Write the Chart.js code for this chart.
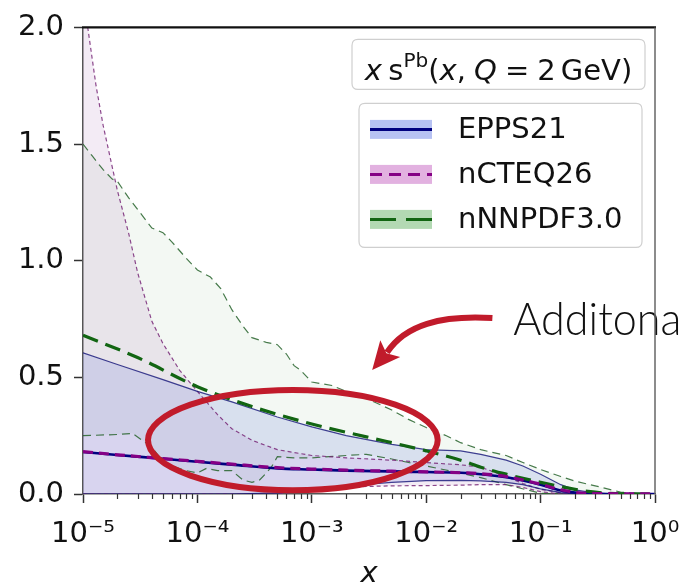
<!DOCTYPE html>
<html>
<head>
<meta charset="utf-8">
<script src="https://cdn.jsdelivr.net/npm/chart.js@4/dist/chart.umd.min.js"></script>
<style>
  html, body { margin: 0; padding: 0; background: #fff; overflow: hidden; }
  canvas { display: block; }
</style>
</head>
<body>
<canvas id="chart" width="679" height="587"></canvas>
<script>
// Strange-quark distribution x s^Pb(x, Q = 2 GeV): central values and uncertainty bands

const seriesNames = ['EPPS21', 'nCTEQ26', 'nNNPDF3.0'];
const xTickValues = [1e-5, 1e-4, 1e-3, 1e-2, 1e-1, 1];
const xTickLabels = ['10⁻⁵', '10⁻⁴', '10⁻³', '10⁻²', '10⁻¹', '10⁰'];
const yTickValues = [0, 0.5, 1.0, 1.5, 2.0];

// common x grid for the smooth curves
const gridX = [1e-5, 2e-5, 5e-5, 1e-4, 2e-4, 5e-4, 1e-3, 2e-3, 5e-3, 1e-2,
               2e-2, 3e-2, 5e-2, 7e-2, 0.1, 0.15, 0.2, 0.3, 0.5, 1];

// EPPS21
const eppsCentral = [0.180, 0.167, 0.151, 0.138, 0.126, 0.110, 0.105, 0.100, 0.097, 0.094,
                     0.091, 0.085, 0.072, 0.058, 0.040, 0.015, 0.006, 0.001, 0.000, 0.000];
const eppsUpper   = [0.605, 0.555, 0.490, 0.440, 0.395, 0.330, 0.288, 0.250, 0.213, 0.190,
                     0.185, 0.170, 0.145, 0.120, 0.085, 0.040, 0.018, 0.004, 0.000, 0.000];
const eppsLower   = [0.000, 0.000, 0.000, 0.000, 0.000, 0.005, 0.020, 0.035, 0.050, 0.057,
                     0.058, 0.056, 0.050, 0.040, 0.022, 0.006, 0.001, 0.000, 0.000, 0.000];

// nCTEQ26
const ncteqCentral = [0.182, 0.168, 0.152, 0.140, 0.128, 0.113, 0.107, 0.102, 0.098, 0.095,
                      0.091, 0.087, 0.075, 0.060, 0.042, 0.018, 0.007, 0.002, 0.001, 0.000];
const ncteqLower   = [0.000, 0.000, 0.000, 0.000, 0.000, 0.000, 0.015, 0.030, 0.035, 0.036,
                      0.038, 0.040, 0.040, 0.028, 0.010, 0.000, 0.000, 0.000, 0.000, 0.000];
const ncteqUpperX  = [1e-5, 1.1e-5, 1.3e-5, 1.5e-5, 2e-5, 2.5e-5, 3e-5, 4e-5, 5e-5, 7e-5,
                      1e-4, 1.5e-4, 2e-4, 3e-4, 5e-4, 1e-3, 2e-3, 5e-3, 1e-2, 2e-2,
                      3e-2, 5e-2, 7e-2, 0.1, 0.15, 0.2, 1];
const ncteqUpper   = [2.12, 2.00, 1.75, 1.58, 1.30, 1.12, 0.95, 0.74, 0.645, 0.53,
                      0.44, 0.34, 0.28, 0.23, 0.19, 0.165, 0.155, 0.145, 0.135, 0.125,
                      0.115, 0.075, 0.045, 0.020, 0.005, 0.000, 0.000];

// nNNPDF3.0
const nnpdfCentralX = [1e-5, 3e-5, 1e-4, 3e-4, 1e-3, 3e-3, 1e-2, 2e-2, 3e-2, 5e-2, 0.1, 0.2, 0.3, 0.5, 1];
const nnpdfCentral  = [0.68, 0.585, 0.46, 0.375, 0.30, 0.245, 0.185, 0.145, 0.115, 0.085, 0.05, 0.02, 0.008, 0.001, 0];
const nnpdfUpperX = [1e-5, 1.2e-5, 1.5e-5, 1.8e-5, 2e-5, 2.5e-5, 3e-5, 4e-5, 5e-5, 6e-5,
                     8e-5, 1e-4, 1.3e-4, 1.6e-4, 2e-4, 2.5e-4, 3e-4, 4e-4, 5e-4, 6e-4,
                     7e-4, 8e-4, 1e-3, 1.5e-3, 2e-3, 3e-3, 5e-3, 7e-3, 1e-2, 1.5e-2,
                     2e-2, 3e-2, 5e-2, 7e-2, 0.1, 0.15, 0.2, 0.3, 0.5, 0.7, 1];
const nnpdfUpper  = [1.50, 1.45, 1.39, 1.35, 1.34, 1.27, 1.22, 1.14, 1.12, 1.08,
                     1.01, 0.96, 0.93, 0.88, 0.79, 0.72, 0.67, 0.65, 0.64, 0.60,
                     0.55, 0.53, 0.48, 0.465, 0.44, 0.41, 0.36, 0.32, 0.285, 0.25,
                     0.22, 0.19, 0.165, 0.135, 0.105, 0.075, 0.055, 0.035, 0.008, 0.002, 0];
const nnpdfLowerX = [1e-5, 2e-5, 2.7e-5, 3.3e-5, 4e-5, 5e-5, 6e-5, 8e-5, 1e-4, 1.2e-4,
                     1.5e-4, 2e-4, 2.5e-4, 3e-4, 3.5e-4, 4e-4, 4.5e-4, 5e-4, 7e-4, 1e-3,
                     2e-3, 3e-3, 5e-3, 7e-3, 1e-2, 2e-2, 3e-2, 5e-2, 0.1, 0.2, 1];
const nnpdfLower  = [0.25, 0.255, 0.26, 0.23, 0.20, 0.14, 0.12, 0.10, 0.09, 0.11,
                     0.10, 0.10, 0.06, 0.05, 0.06, 0.09, 0.12, 0.16, 0.155, 0.155,
                     0.165, 0.17, 0.15, 0.135, 0.12, 0.09, 0.07, 0.04, 0.003, 0, 0];

// callout: ellipse box, curved arrow path and label, all in data coordinates
const calloutEllipse = { xMin: 3.7e-5, xMax: 1.26e-2, yMin: 0.016, yMax: 0.446 };
const calloutArrow = [
  { x: 3.79e-2, y: 0.754 },  // start
  { x: 1.33e-2, y: 0.767 },  // control 1
  { x: 6.56e-3, y: 0.725 },  // control 2
  { x: 4.85e-3, y: 0.6235 }, // end of shaft
  { x: 3.37e-3, y: 0.531 }   // tip
];
const calloutText = { text: 'Additonal', x: 5.78e-2, y: 0.6826 };
const legendTitleParts = [
  { t: 'x', it: true }, { gap: 0.22 }, { t: 's' }, { t: 'Pb', sup: true }, { t: '(' },
  { t: 'x', it: true }, { t: ',' }, { gap: 0.28 }, { t: 'Q', it: true }, { gap: 0.28 },
  { t: '=' }, { gap: 0.28 }, { t: '2' }, { gap: 0.17 }, { t: 'GeV' }, { t: ')' }
];

const FONT = "'DejaVu Sans', sans-serif";
const styles = [
  { line: '#00007f', edge: 'rgba(20,20,120,0.8)', fill: 'rgba(85,100,215,0.17)',
    patch: '#b7c2f3', dash: [], edgeDash: [], legendDash: [], width: 2.6 },
  { line: '#850085', edge: 'rgba(120,40,120,0.85)', fill: 'rgba(150,75,160,0.11)',
    patch: '#e2b1e0', dash: [10, 6], edgeDash: [4, 3], legendDash: [12, 7], width: 3.2 },
  { line: '#126512', edge: 'rgba(40,100,45,0.85)', fill: 'rgba(80,160,80,0.07)',
    patch: '#b3d9b3', dash: [16, 8], edgeDash: [8, 5], legendDash: [26, 10], width: 3.2 }
];

const pts = (xs, ys) => xs.map((x, i) => ({ x, y: ys[i] }));

const datasets = [];
function addBand(k, upX, up, loX, lo, cX, c, centralOrder) {
  const s = styles[k];
  const upperIndex = datasets.length;
  datasets.push({
    label: seriesNames[k] + ' upper', data: pts(upX, up), fill: upperIndex + 1,
    backgroundColor: s.fill, borderColor: s.edge, borderWidth: 1.2, borderDash: s.edgeDash,
    tension: 0, order: 10
  });
  datasets.push({
    label: seriesNames[k] + ' lower', data: pts(loX, lo), fill: false,
    borderColor: s.edge, borderWidth: 1.2, borderDash: s.edgeDash, tension: 0, order: 10
  });
  datasets.push({
    label: seriesNames[k], data: pts(cX, c), fill: false,
    borderColor: s.line, borderWidth: s.width, borderDash: s.dash,
    cubicInterpolationMode: 'monotone', order: centralOrder
  });
}
addBand(0, gridX, eppsUpper, gridX, eppsLower, gridX, eppsCentral, 3);
addBand(1, ncteqUpperX, ncteqUpper, gridX, ncteqLower, gridX, ncteqCentral, 1);
addBand(2, nnpdfUpperX, nnpdfUpper, nnpdfLowerX, nnpdfLower, nnpdfCentralX, nnpdfCentral, 2);

function roundRectPath(ctx, x, y, w, h, r) {
  ctx.beginPath();
  ctx.moveTo(x + r, y);
  ctx.lineTo(x + w - r, y); ctx.quadraticCurveTo(x + w, y, x + w, y + r);
  ctx.lineTo(x + w, y + h - r); ctx.quadraticCurveTo(x + w, y + h, x + w - r, y + h);
  ctx.lineTo(x + r, y + h); ctx.quadraticCurveTo(x, y + h, x, y + h - r);
  ctx.lineTo(x, y + r); ctx.quadraticCurveTo(x, y, x + r, y);
  ctx.closePath();
}

const decorations = {
  id: 'decorations',
  afterDraw(chart) {
    const { ctx, chartArea: a, scales: { x, y } } = chart;
    ctx.save();

    // minor ticks on the log axis
    ctx.strokeStyle = '#333'; ctx.lineWidth = 1.2;
    for (let e = -5; e < 0; e++) {
      for (let k = 2; k < 10; k++) {
        const px = Math.round(x.getPixelForValue(k * Math.pow(10, e))) + 0.5;
        ctx.beginPath(); ctx.moveTo(px, a.bottom); ctx.lineTo(px, a.bottom + 5); ctx.stroke();
      }
    }

    // legend title box
    const fs = 29;
    const tb = { x: a.right - 303, y: a.top + 12, w: 293, h: 50 };
    roundRectPath(ctx, tb.x, tb.y, tb.w, tb.h, 6);
    ctx.fillStyle = 'rgba(255,255,255,0.85)'; ctx.fill();
    ctx.strokeStyle = '#cfcfcf'; ctx.lineWidth = 1.2; ctx.stroke();
    const fontFor = p => (p.it ? 'italic ' : '') + (p.sup ? Math.round(fs * 0.7) : fs) + 'px ' + FONT;
    let total = 0;
    legendTitleParts.forEach(p => {
      if (p.gap) { total += p.gap * fs; return; }
      ctx.font = fontFor(p); total += ctx.measureText(p.t).width;
    });
    let cx = tb.x + (tb.w - total) / 2;
    const base = tb.y + 41;
    ctx.fillStyle = '#111'; ctx.textBaseline = 'alphabetic'; ctx.textAlign = 'left';
    legendTitleParts.forEach(p => {
      if (p.gap) { cx += p.gap * fs; return; }
      ctx.font = fontFor(p);
      ctx.fillText(p.t, cx, p.sup ? base - fs * 0.45 : base);
      cx += ctx.measureText(p.t).width;
    });

    // legend entries
    const lb = { x: a.right - 296, y: a.top + 76, w: 283, h: 144 };
    roundRectPath(ctx, lb.x, lb.y, lb.w, lb.h, 6);
    ctx.fillStyle = 'rgba(255,255,255,0.85)'; ctx.fill();
    ctx.strokeStyle = '#cfcfcf'; ctx.lineWidth = 1.2; ctx.stroke();
    seriesNames.forEach((name, i) => {
      const s = styles[i];
      const rowY = lb.y + 26 + i * 45;
      const hx = lb.x + 11, hw = 62, hh = 19;
      ctx.fillStyle = s.patch;
      ctx.fillRect(hx, rowY - hh / 2, hw, hh);
      ctx.strokeStyle = s.line; ctx.lineWidth = 3; ctx.setLineDash(s.legendDash);
      ctx.beginPath(); ctx.moveTo(hx, rowY); ctx.lineTo(hx + hw, rowY); ctx.stroke();
      ctx.setLineDash([]);
      ctx.fillStyle = '#111'; ctx.font = fs + 'px ' + FONT; ctx.textBaseline = 'middle';
      ctx.fillText(name, lb.x + 99, rowY + 1);
    });

    // callout ellipse
    const red = '#c11b2b';
    const ex0 = x.getPixelForValue(calloutEllipse.xMin), ex1 = x.getPixelForValue(calloutEllipse.xMax);
    const ey0 = y.getPixelForValue(calloutEllipse.yMax), ey1 = y.getPixelForValue(calloutEllipse.yMin);
    ctx.strokeStyle = red; ctx.lineWidth = 6;
    ctx.beginPath();
    ctx.ellipse((ex0 + ex1) / 2, (ey0 + ey1) / 2, (ex1 - ex0) / 2, (ey1 - ey0) / 2, 0, 0, Math.PI * 2);
    ctx.stroke();

    // curved arrow
    const P = calloutArrow.map(p => ({ x: x.getPixelForValue(p.x), y: y.getPixelForValue(p.y) }));
    const [p0, c1, c2, b, tip] = P;
    const dx = tip.x - b.x, dy = tip.y - b.y, len = Math.hypot(dx, dy);
    const ux = dx / len, uy = dy / len, nx = -uy, ny = ux;
    ctx.lineWidth = 6; ctx.lineCap = 'butt';
    ctx.beginPath(); ctx.moveTo(p0.x, p0.y);
    ctx.bezierCurveTo(c1.x, c1.y, c2.x, c2.y, b.x + ux * 5, b.y + uy * 5);
    ctx.stroke();
    ctx.fillStyle = red;
    ctx.beginPath();
    ctx.moveTo(tip.x, tip.y);
    ctx.lineTo(b.x + nx * 13, b.y + ny * 13);
    ctx.lineTo(b.x + ux * 6, b.y + uy * 6);
    ctx.lineTo(b.x - nx * 13, b.y - ny * 13);
    ctx.closePath(); ctx.fill();

    // callout label (runs off the right edge)
    ctx.font = "300 46px Lato, 'Liberation Sans', sans-serif";
    ctx.textBaseline = 'alphabetic'; ctx.textAlign = 'left';
    const sx = 168 / ctx.measureText('Additona').width;
    ctx.fillStyle = '#111';
    ctx.save();
    ctx.translate(x.getPixelForValue(calloutText.x), y.getPixelForValue(calloutText.y));
    ctx.scale(sx, 1);
    ctx.fillText(calloutText.text, 0, 0);
    ctx.restore();

    // top and right spines
    ctx.lineCap = 'butt';
    ctx.strokeStyle = '#111'; ctx.lineWidth = 2.2;
    ctx.beginPath(); ctx.moveTo(a.left - 1, a.top); ctx.lineTo(a.right + 1, a.top); ctx.stroke();
    ctx.strokeStyle = '#666'; ctx.lineWidth = 1.5;
    ctx.beginPath(); ctx.moveTo(a.right, a.top); ctx.lineTo(a.right, a.bottom); ctx.stroke();

    ctx.restore();
  }
};

new Chart(document.getElementById('chart'), {
  type: 'line',
  data: { datasets },
  options: {
    responsive: false,
    animation: false,
    devicePixelRatio: 1,
    layout: { padding: { top: 20, right: 24, left: 0, bottom: 0 } },
    elements: { point: { radius: 0 } },
    plugins: {
      legend: { display: false },
      tooltip: { enabled: false },
      filler: { drawTime: 'beforeDatasetsDraw', propagate: false }
    },
    scales: {
      x: {
        type: 'logarithmic', position: 'bottom', min: 1e-5, max: 1,
        afterBuildTicks: s => { s.ticks = xTickValues.map(v => ({ value: v, major: true })); },
        afterFit: s => { s.height = 93; s.paddingLeft = 0; s.paddingRight = 0; },
        ticks: {
          autoSkip: false, maxRotation: 0, minRotation: 0, padding: 14, color: '#111',
          font: { family: FONT, size: 29 },
          callback: v => xTickLabels[xTickValues.indexOf(v)]
        },
        grid: { drawOnChartArea: false, drawTicks: true, tickLength: 9, tickWidth: 1.5, tickColor: '#333' },
        border: { display: true, color: '#555', width: 1.5 },
        title: { display: true, text: 'x', color: '#111', font: { family: FONT, size: 29, style: 'italic' }, padding: { top: 0, bottom: -5 } }
      },
      y: {
        type: 'linear', min: 0, max: 2,
        afterBuildTicks: s => { s.ticks = yTickValues.map(v => ({ value: v })); },
        afterFit: s => { s.width = 83; },
        ticks: { padding: 10, color: '#111', font: { family: FONT, size: 29 }, callback: v => v.toFixed(1) },
        grid: { drawOnChartArea: false, drawTicks: true, tickLength: 9, tickWidth: 1.5, tickColor: '#333' },
        border: { display: true, color: '#555', width: 1.5 }
      }
    }
  },
  plugins: [decorations]
});
</script>
</body>
</html>
